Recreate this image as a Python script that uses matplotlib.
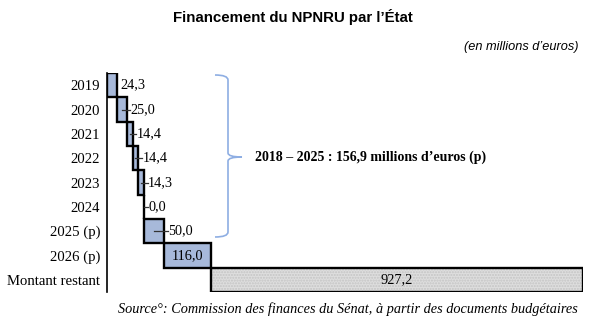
import matplotlib
matplotlib.use("Agg")
import matplotlib.pyplot as plt
from matplotlib.path import Path
from matplotlib.patches import PathPatch
import numpy as np

categories = ["2019", "2020", "2021", "2022", "2023", "2024", "2025 (p)", "2026 (p)", "Montant restant"]
values = [24.3, 25.0, 14.4, 14.4, 14.3, 0.0, 50.0, 116.0, 927.2]
value_labels = ["24,3", "25,0", "14,4", "14,4", "14,3", "0,0", "50,0", "116,0", "927,2"]
title = "Financement du NPNRU par l\u2019\u00c9tat"
unit_text = "(en millions d\u2019euros)"
brace_text = "2018 \u2013 2025 : 156,9 millions d\u2019euros (p)"
source_text = "Source\u00b0: Commission des finances du S\u00e9nat, \u00e0 partir des documents budg\u00e9taires"

blue = "#a7b9da"
grey = "#dedede"
brace_col = "#8eaee3"
serif = ["Liberation Serif", "DejaVu Serif"]

W, H = 610, 327
fig = plt.figure(figsize=(W / 100, H / 100), dpi=100)
ax = fig.add_axes([107 / W, 1 - 292 / H, (583 - 107) / W, (292 - 73) / H])

vals = np.array(values)
starts = np.concatenate([[0], np.cumsum(vals)[:-1]])
ends = starts + vals
ypos = np.arange(len(categories))

# hatch texture for the remaining bar
ax.barh(ypos[-1:], vals[-1:], left=starts[-1:], height=1.0, color=grey,
        edgecolor="#c4c4c4", linewidth=0, hatch="......", zorder=2)
ax.barh(ypos[:-1], vals[:-1], left=starts[:-1], height=1.0, color=blue,
        edgecolor="none", zorder=2)
ax.barh(ypos, vals, left=starts, height=1.0, facecolor="none",
        edgecolor="black", linewidth=1.7, zorder=3)

ax.set_xlim(0, ends[-1] + 1)
ax.set_ylim(len(categories) - 0.5, -0.5)
ax.set_yticks(ypos)
ax.set_yticklabels(categories, fontfamily=serif, fontsize=10.6)
ax.tick_params(axis="y", length=0, pad=5)
ax.set_xticks([])
for s in ["top", "right", "bottom"]:
    ax.spines[s].set_visible(False)
ax.spines["left"].set_linewidth(1.2)

px = (ends[-1] + 1) / (583 - 107)  # data units per pixel
for i, (st, en, lbl) in enumerate(zip(starts, ends, value_labels)):
    y = ypos[i]
    if i == 0:
        ax.text(en + 4 * px, y, lbl, ha="left", va="center", fontfamily=serif, fontsize=10.3, zorder=5)
    elif i < len(categories) - 2:
        c = (st + en) / 2
        ax.plot([c, en + 3.5 * px], [y, y], color="#333333", lw=0.9, zorder=4)
        ax.text(en + 4 * px, y, lbl, ha="left", va="center", fontfamily=serif, fontsize=10.3, zorder=5)
    else:
        ax.text((st + en) / 2, y, lbl, ha="center", va="center", fontfamily=serif, fontsize=10.3, zorder=5)

# brace in pixel coordinates -> figure fraction
def P(x, y):
    return (x / W, 1 - y / H)

xl, xv, xt = 215, 228, 242
yt, ym, yb = 75, 157, 237
verts = [P(xl, yt), P(xv, yt), P(xv, yt + 5), P(xv, yt + 5),
         P(xv, ym - 4), P(xv, ym), P(xt, ym),
         P(xv, ym), P(xv, ym + 4), P(xv, ym + 4),
         P(xv, yb - 5), P(xv, yb), P(xl, yb)]
codes = [Path.MOVETO, Path.CURVE3, Path.CURVE3, Path.LINETO,
         Path.LINETO, Path.CURVE3, Path.CURVE3,
         Path.CURVE3, Path.CURVE3, Path.LINETO,
         Path.LINETO, Path.CURVE3, Path.CURVE3]
fig.patches.append(PathPatch(Path(verts, codes), transform=fig.transFigure,
                             facecolor="none", edgecolor=brace_col, lw=1.2))
fig.text(255 / W, 1 - 157 / H, brace_text, ha="left", va="center",
         fontfamily=serif, fontweight="bold", fontsize=10)

fig.text(293 / W, 1 - 17 / H, title, ha="center", va="center",
         fontfamily="Liberation Sans", fontweight="bold", fontsize=10.8)
fig.text(578 / W, 1 - 47 / H, unit_text, ha="right", va="center",
         fontfamily="Liberation Sans", fontstyle="italic", fontsize=9.2)
fig.text(578 / W, 1 - 309 / H, source_text, ha="right", va="center",
         fontfamily=serif, fontstyle="italic", fontsize=10.3)

fig.savefig("out.png", dpi=100)
